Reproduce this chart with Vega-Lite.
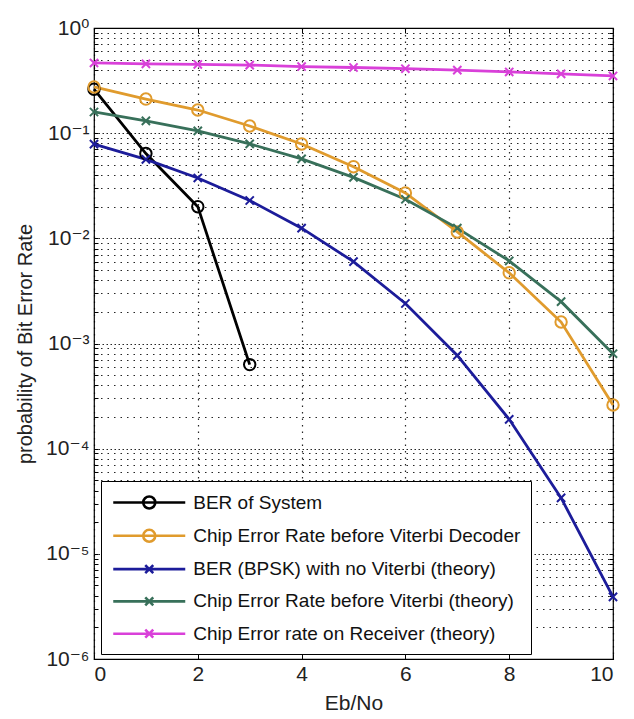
{
  "$schema": "https://vega.github.io/schema/vega-lite/v6.json",
  "autosize": "none",
  "width": 519,
  "height": 631,
  "padding": {"left": 94, "top": 28, "right": 21, "bottom": 60},
  "background": "white",
  "config": {
    "font": "Liberation Sans, Arial, DejaVu Sans",
    "view": {"stroke": "#000000", "strokeWidth": 1.2},
    "axis": {"labelFont": "Liberation Sans, DejaVu Sans", "titleFont": "Liberation Sans, DejaVu Sans", "labelColor": "#222222", "titleColor": "#222222", "titleFontWeight": "normal", "domain": false}
  },
  "data": {
    "values": [
      {"x": 0, "y": 0.262, "series": "BER of System"},
      {"x": 1, "y": 0.064, "series": "BER of System"},
      {"x": 2, "y": 0.020, "series": "BER of System"},
      {"x": 3, "y": 0.00063, "series": "BER of System"},
      {"x": 0, "y": 0.275, "series": "Chip Error Rate before Viterbi Decoder"},
      {"x": 1, "y": 0.211, "series": "Chip Error Rate before Viterbi Decoder"},
      {"x": 2, "y": 0.166, "series": "Chip Error Rate before Viterbi Decoder"},
      {"x": 3, "y": 0.117, "series": "Chip Error Rate before Viterbi Decoder"},
      {"x": 4, "y": 0.079, "series": "Chip Error Rate before Viterbi Decoder"},
      {"x": 5, "y": 0.048, "series": "Chip Error Rate before Viterbi Decoder"},
      {"x": 6, "y": 0.027, "series": "Chip Error Rate before Viterbi Decoder"},
      {"x": 7, "y": 0.0115, "series": "Chip Error Rate before Viterbi Decoder"},
      {"x": 8, "y": 0.0047, "series": "Chip Error Rate before Viterbi Decoder"},
      {"x": 9, "y": 0.0016, "series": "Chip Error Rate before Viterbi Decoder"},
      {"x": 10, "y": 0.00026, "series": "Chip Error Rate before Viterbi Decoder"},
      {"x": 0, "y": 0.0786, "series": "BER (BPSK) with no Viterbi (theory)"},
      {"x": 1, "y": 0.0563, "series": "BER (BPSK) with no Viterbi (theory)"},
      {"x": 2, "y": 0.0375, "series": "BER (BPSK) with no Viterbi (theory)"},
      {"x": 3, "y": 0.0229, "series": "BER (BPSK) with no Viterbi (theory)"},
      {"x": 4, "y": 0.0125, "series": "BER (BPSK) with no Viterbi (theory)"},
      {"x": 5, "y": 0.0060, "series": "BER (BPSK) with no Viterbi (theory)"},
      {"x": 6, "y": 0.0024, "series": "BER (BPSK) with no Viterbi (theory)"},
      {"x": 7, "y": 0.00077, "series": "BER (BPSK) with no Viterbi (theory)"},
      {"x": 8, "y": 0.00019, "series": "BER (BPSK) with no Viterbi (theory)"},
      {"x": 9, "y": 0.000034, "series": "BER (BPSK) with no Viterbi (theory)"},
      {"x": 10, "y": 0.0000039, "series": "BER (BPSK) with no Viterbi (theory)"},
      {"x": 0, "y": 0.159, "series": "Chip Error Rate before Viterbi (theory)"},
      {"x": 1, "y": 0.131, "series": "Chip Error Rate before Viterbi (theory)"},
      {"x": 2, "y": 0.105, "series": "Chip Error Rate before Viterbi (theory)"},
      {"x": 3, "y": 0.079, "series": "Chip Error Rate before Viterbi (theory)"},
      {"x": 4, "y": 0.057, "series": "Chip Error Rate before Viterbi (theory)"},
      {"x": 5, "y": 0.038, "series": "Chip Error Rate before Viterbi (theory)"},
      {"x": 6, "y": 0.0235, "series": "Chip Error Rate before Viterbi (theory)"},
      {"x": 7, "y": 0.0125, "series": "Chip Error Rate before Viterbi (theory)"},
      {"x": 8, "y": 0.0061, "series": "Chip Error Rate before Viterbi (theory)"},
      {"x": 9, "y": 0.0025, "series": "Chip Error Rate before Viterbi (theory)"},
      {"x": 10, "y": 0.0008, "series": "Chip Error Rate before Viterbi (theory)"},
      {"x": 0, "y": 0.465, "series": "Chip Error rate on Receiver (theory)"},
      {"x": 1, "y": 0.456, "series": "Chip Error rate on Receiver (theory)"},
      {"x": 2, "y": 0.450, "series": "Chip Error rate on Receiver (theory)"},
      {"x": 3, "y": 0.444, "series": "Chip Error rate on Receiver (theory)"},
      {"x": 4, "y": 0.430, "series": "Chip Error rate on Receiver (theory)"},
      {"x": 5, "y": 0.421, "series": "Chip Error rate on Receiver (theory)"},
      {"x": 6, "y": 0.410, "series": "Chip Error rate on Receiver (theory)"},
      {"x": 7, "y": 0.398, "series": "Chip Error rate on Receiver (theory)"},
      {"x": 8, "y": 0.382, "series": "Chip Error rate on Receiver (theory)"},
      {"x": 9, "y": 0.366, "series": "Chip Error rate on Receiver (theory)"},
      {"x": 10, "y": 0.350, "series": "Chip Error rate on Receiver (theory)"}
    ]
  },
  "layer": [
    {
      "mark": {"type": "line", "strokeWidth": 2.8},
      "encoding": {
        "x": {"field": "x", "type": "quantitative", "scale": {"domain": [0, 10], "nice": false},
          "axis": {"orient": "bottom", "values": [0, 2, 4, 6, 8, 10], "title": "Eb/No", "titleFontSize": 21, "titlePadding": 8, "labelFontSize": 21, "labelPadding": 9, "tickSize": -5, "tickColor": "#000000", "grid": true, "gridColor": "#000000", "gridDash": [1.5, 5], "gridWidth": 1.2, "gridOpacity": 0.85}},
        "y": {"field": "y", "type": "quantitative", "scale": {"type": "log", "domain": [0.000001, 1], "nice": false},
          "axis": {"orient": "left", "title": "probability of Bit Error Rate", "titleFontSize": 20, "titlePadding": 10, "labelFontSize": 21, "labelPadding": 9, "tickSize": -4, "tickColor": "#000000",
            "values": [0.000001,0.000002,0.000003,0.000004,0.000005,0.000006,0.000007,0.000008,0.000009,0.00001,0.00002,0.00003,0.00004,0.00005,0.00006,0.00007,0.00008,0.00009,0.0001,0.0002,0.0003,0.0004,0.0005,0.0006,0.0007,0.0008,0.0009,0.001,0.002,0.003,0.004,0.005,0.006,0.007,0.008,0.009,0.01,0.02,0.03,0.04,0.05,0.06,0.07,0.08,0.09,0.1,0.2,0.3,0.4,0.5,0.6,0.7,0.8,0.9,1],
            "labelExpr": "abs(log(datum.value)/LN10 - round(log(datum.value)/LN10)) < 0.001 ? ['10⁰','10⁻¹','10⁻²','10⁻³','10⁻⁴','10⁻⁵','10⁻⁶'][round(-log(datum.value)/LN10)] : ''",
            "grid": true, "gridColor": "#000000", "gridWidth": 1.2, "gridOpacity": 0.85,
            "gridDash": {"condition": {"test": "abs(log(datum.value)/LN10 - round(log(datum.value)/LN10)) < 0.001", "value": [1.5, 2.5]}, "value": [1.5, 5]}}},
        "color": {"field": "series", "type": "nominal",
          "scale": {"domain": ["BER of System", "Chip Error Rate before Viterbi Decoder", "BER (BPSK) with no Viterbi (theory)", "Chip Error Rate before Viterbi (theory)", "Chip Error rate on Receiver (theory)"],
            "range": ["#000000", "#E09B2D", "#1C1C9A", "#38705A", "#D940D9"]},
          "legend": {"orient": "none", "legendX": 7, "legendY": 453, "title": null, "direction": "vertical",
            "labelFontSize": 19, "labelColor": "#111111", "labelFont": "Liberation Sans, Arial",
            "symbolSize": 400, "symbolStrokeWidth": 2.6, "symbolOffset": 26.75, "labelOffset": 32.5, "rowPadding": 10.3,
            "symbolFillColor": "transparent",
            "symbolType": {"expr": "datum.value === 'BER of System' || datum.value === 'Chip Error Rate before Viterbi Decoder' ? 'M-3.6,0L3.6,0M0.6,0A0.6,0.6,0,1,1,-0.6,0A0.6,0.6,0,1,1,0.6,0' : 'M-3.6,0L3.6,0M-0.4,-0.4L0.4,0.4M-0.4,0.4L0.4,-0.4'"},
            "padding": 10, "strokeColor": "#000000", "fillColor": "#ffffff", "cornerRadius": 0, "labelLimit": 400}}
      }
    },
    {
      "transform": [{"filter": {"field": "series", "oneOf": ["BER of System", "Chip Error Rate before Viterbi Decoder"]}}],
      "mark": {"type": "point", "shape": "circle", "filled": false, "strokeWidth": 2, "opacity": 1, "size": 130},
      "encoding": {
        "x": {"field": "x", "type": "quantitative", "axis": null},
        "y": {"field": "y", "type": "quantitative", "axis": null},
        "stroke": {"field": "series", "type": "nominal", "legend": null,
          "scale": {"domain": ["BER of System", "Chip Error Rate before Viterbi Decoder", "BER (BPSK) with no Viterbi (theory)", "Chip Error Rate before Viterbi (theory)", "Chip Error rate on Receiver (theory)"],
            "range": ["#000000", "#E09B2D", "#1C1C9A", "#38705A", "#D940D9"]}}
      }
    },
    {
      "transform": [{"filter": {"field": "series", "oneOf": ["BER (BPSK) with no Viterbi (theory)", "Chip Error Rate before Viterbi (theory)", "Chip Error rate on Receiver (theory)"]}}],
      "mark": {"type": "point", "shape": "M-0.75,-0.75L0.75,0.75M-0.75,0.75L0.75,-0.75", "filled": false, "strokeWidth": 2, "opacity": 1, "size": 120},
      "encoding": {
        "x": {"field": "x", "type": "quantitative",
          "axis": {"orient": "top", "values": [0, 2, 4, 6, 8, 10], "labels": false, "title": null, "grid": false, "tickSize": -5, "tickColor": "#000000"}},
        "y": {"field": "y", "type": "quantitative",
          "axis": {"orient": "right", "labels": false, "title": null, "grid": false, "tickSize": -4, "tickColor": "#000000",
            "values": [0.000001,0.000002,0.000003,0.000004,0.000005,0.000006,0.000007,0.000008,0.000009,0.00001,0.00002,0.00003,0.00004,0.00005,0.00006,0.00007,0.00008,0.00009,0.0001,0.0002,0.0003,0.0004,0.0005,0.0006,0.0007,0.0008,0.0009,0.001,0.002,0.003,0.004,0.005,0.006,0.007,0.008,0.009,0.01,0.02,0.03,0.04,0.05,0.06,0.07,0.08,0.09,0.1,0.2,0.3,0.4,0.5,0.6,0.7,0.8,0.9,1]}},
        "stroke": {"field": "series", "type": "nominal", "legend": null}
      }
    }
  ],
  "resolve": {"axis": {"x": "independent", "y": "independent"}}
}
